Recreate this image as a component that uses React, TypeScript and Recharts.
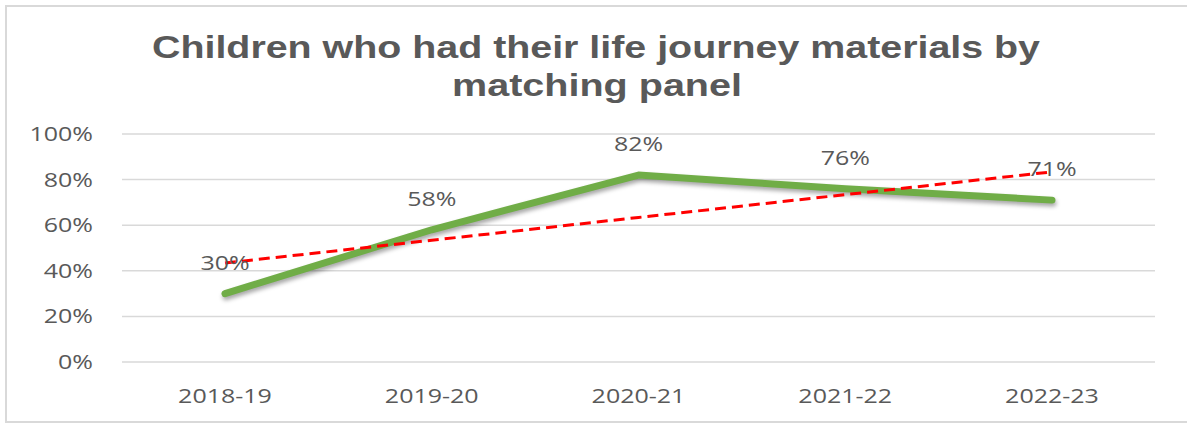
import React from 'react';
import { LineChart, Line, XAxis, YAxis, CartesianGrid, LabelList } from 'recharts';

const categories = ['2018-19', '2019-20', '2020-21', '2021-22', '2022-23'];
const actualValues = [30, 58, 82, 76, 71];
const trendValues = [43.4, 53.4, 63.4, 73.4, 83.4];
const yTicks = [0, 20, 40, 60, 80, 100];
const titleLines = ['Children who had their life journey materials by', 'matching panel'];

const data = categories.map((c, i) => ({ year: c, actual: actualValues[i], trend: trendValues[i] }));

const TEXT = '#595959';
const SX = 1.25;
const FONT = "'Open Sans', sans-serif";

function StretchText({ x, y, text, anchor, size }: any) {
  return (
    <g transform={`translate(${x},${y}) scale(${SX},1)`}>
      <text x={0} y={0} textAnchor={anchor} fontSize={size} fontFamily={FONT} fill={TEXT}>
        {text}
      </text>
    </g>
  );
}

const YTick = (props: any) => {
  const { x, y, payload } = props;
  return <StretchText x={x} y={y + 7} text={`${payload.value}%`} anchor="end" size={20} />;
};

const XTick = (props: any) => {
  const { x, y, payload } = props;
  return <StretchText x={x} y={y + 41} text={payload.value} anchor="middle" size={20} />;
};

const PointLabel = (props: any) => {
  const { x, y, value } = props;
  return <StretchText x={x} y={y - 24} text={`${value}%`} anchor="middle" size={20} />;
};

export default function App() {
  return (
    <div style={{ position: 'relative', width: 1187, height: 423, overflow: 'hidden', background: '#fff' }}>
      <style>{'body{margin:0;}'}</style>
      <div
        style={{
          position: 'absolute',
          left: 5,
          top: 5,
          width: 1220,
          height: 414,
          border: '2px solid #d9d9d9',
        }}
      />
      <svg
        width={1187}
        height={120}
        style={{ position: 'absolute', left: 0, top: 0, pointerEvents: 'none' }}
      >
        <text
          x={596}
          y={58}
          textAnchor="middle"
          fontFamily="'Liberation Sans', Arial, sans-serif"
          fontWeight="bold"
          fontSize={32}
          fill={TEXT}
          textLength={888}
          lengthAdjust="spacingAndGlyphs"
        >
          {titleLines[0]}
        </text>
        <text
          x={597}
          y={96}
          textAnchor="middle"
          fontFamily="'Liberation Sans', Arial, sans-serif"
          fontWeight="bold"
          fontSize={32}
          fill={TEXT}
          textLength={290}
          lengthAdjust="spacingAndGlyphs"
        >
          {titleLines[1]}
        </text>
      </svg>
      <div style={{ position: 'absolute', left: 0, top: 0 }}>
        <LineChart width={1187} height={423} data={data} margin={{ top: 134, right: 32, bottom: 31, left: 0 }}>
          <CartesianGrid vertical={false} stroke="#d9d9d9" strokeWidth={1.5} />
          <XAxis
            dataKey="year"
            height={30}
            axisLine={false}
            tickLine={false}
            tickSize={0}
            tickMargin={0}
            tick={<XTick />}
            interval={0}
            padding={{ left: 103, right: 103 }}
          />
          <YAxis
            width={122}
            domain={[0, 100]}
            ticks={yTicks}
            axisLine={false}
            tickLine={false}
            tickSize={0}
            tickMargin={29}
            tick={<YTick />}
          />
          <Line
            type="linear"
            dataKey="actual"
            stroke="#70AD47"
            strokeWidth={7}
            strokeLinecap="round"
            strokeLinejoin="round"
            dot={false}
            activeDot={false}
            isAnimationActive={false}
            style={{ filter: 'drop-shadow(1px 3px 2px rgba(0,0,0,0.35))' }}
          >
            <LabelList dataKey="actual" content={<PointLabel />} />
          </Line>
          <Line
            type="linear"
            dataKey="trend"
            stroke="#FF0000"
            strokeWidth={3}
            strokeDasharray="11 6"
            dot={false}
            activeDot={false}
            isAnimationActive={false}
          />
        </LineChart>
      </div>
    </div>
  );
}
